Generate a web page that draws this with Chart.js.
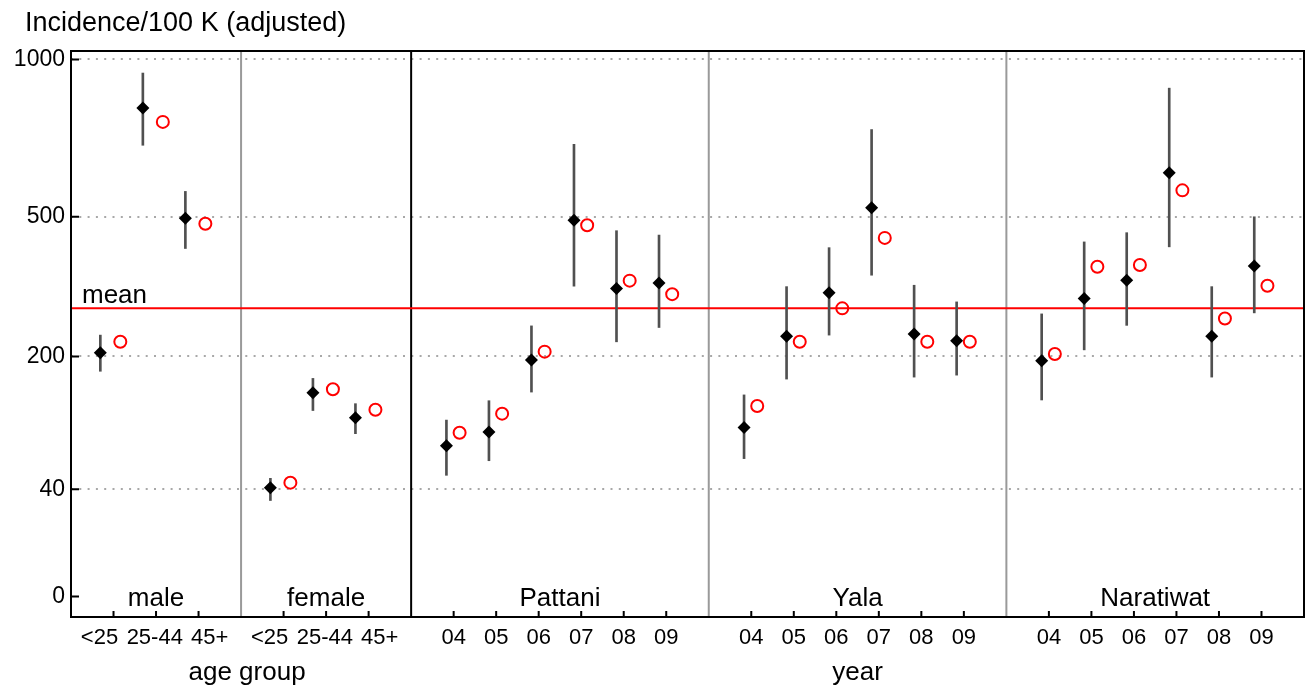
<!DOCTYPE html>
<html>
<head>
<meta charset="utf-8">
<title>Incidence/100 K (adjusted)</title>
<script src="https://cdn.jsdelivr.net/npm/chart.js@4.4.1/dist/chart.umd.min.js"></script>
<style>
  html, body { margin: 0; padding: 0; background: #fff; overflow: hidden; }
  #wrap { width: 1306px; height: 687px; }
  canvas { display: block; }
</style>
</head>
<body>
<div id="wrap"><canvas id="chart" width="1306" height="687"></canvas></div>
<script>
const panelNames = ['male', 'female', 'Pattani', 'Yala', 'Naratiwat'];
const ageGroups = ['<25', '25-44', '45+'];
const years = ['04', '05', '06', '07', '08', '09'];
const yTickValues = [0, 40, 200, 500, 1000];
const meanValue = 288;

// black diamonds (male x3, female x3, Pattani x6, Yala x6, Naratiwat x6)
const observed = [206, 827, 496,  41, 144, 111,
                  79, 94, 194, 491, 329, 341,
                  99, 235, 320, 524, 239, 227,
                  193, 308, 347, 623, 235, 379];
const lower = [176, 706, 420,  32, 120, 92,
               51, 64, 145, 334, 225, 251,
               66, 164, 237, 358, 167, 170,
               134, 211, 255, 424, 167, 279];
const upper = [237, 950, 569,  48.5, 165, 129,
               108, 133, 254, 709, 464, 453,
               141, 333, 422, 756, 336, 301,
               277, 436, 459, 896, 333, 500];
// red open circles
const expected = [225, 781, 482,  45, 149, 121,
                  93, 116, 208, 478, 346, 317,
                  126, 225, 288, 446, 225, 225,
                  204, 377, 381, 572, 268, 335];

const sq = v => Math.sqrt(v);   // the y axis is square-root scaled

// layout of the x axis: each panel gets one empty slot as padding
const panelCats = panelNames.map((n, i) => i < 2 ? ageGroups : years);
const catX = [], catPanel = [], panelStart = [], panelEnd = [];
let pos = 0;
panelCats.forEach((cats, p) => {
  panelStart.push(pos);
  cats.forEach((c, j) => { catX.push(pos + j + 1); catPanel.push(p); });
  pos += cats.length + 1;
  panelEnd.push(pos);
});
const xMax = pos;
const ageLabelShift = [-0.33, -0.03, 0.26];
const tickLabels = [], tickLabelX = [];
panelCats.forEach((cats, p) => cats.forEach((c, j) => {
  tickLabels.push(c);
  tickLabelX.push(panelStart[p] + j + 1 + (p < 2 ? ageLabelShift[j] : 0));
}));
const diamondX = catX.map((x, i) => x + (catPanel[i] < 2 ? -0.31 : -0.17));
const circleX = catX.map((x, i) => x + (catPanel[i] < 2 ? 0.16 : 0.14));

const FONT = '"Liberation Sans", Arial, sans-serif';

const decor = {
  id: 'decor',
  beforeDatasetsDraw(chart) {
    const {ctx, chartArea: a, scales: {x, y}} = chart;
    ctx.save();
    ctx.lineWidth = 2;
    panelStart.slice(1).forEach((v, i) => {
      const px = x.getPixelForValue(v);
      ctx.strokeStyle = (i === 1) ? '#000' : '#9a9a9a';
      ctx.beginPath(); ctx.moveTo(px, a.top); ctx.lineTo(px, a.bottom); ctx.stroke();
    });
    ctx.fillStyle = '#000';
    ctx.font = '26px ' + FONT;
    ctx.textAlign = 'left';
    ctx.textBaseline = 'alphabetic';
    ctx.fillText('mean', a.left + 11, y.getPixelForValue(sq(meanValue)) - 5);
    ctx.restore();
  },
  afterDraw(chart) {
    const {ctx, chartArea: a, scales: {x, y}} = chart;
    ctx.save();
    ctx.strokeStyle = '#000';
    ctx.lineWidth = 2;
    ctx.strokeRect(a.left, a.top, a.right - a.left, a.bottom - a.top);
    // inward tick marks
    ctx.beginPath();
    yTickValues.forEach(v => {
      const py = y.getPixelForValue(sq(v));
      ctx.moveTo(a.left, py); ctx.lineTo(a.left + 8, py);
    });
    catX.forEach(v => {
      const px = x.getPixelForValue(v);
      ctx.moveTo(px, a.bottom); ctx.lineTo(px, a.bottom - 6);
    });
    ctx.stroke();
    ctx.fillStyle = '#000';
    ctx.font = '26px ' + FONT;
    ctx.textAlign = 'center';
    ctx.textBaseline = 'alphabetic';
    panelNames.forEach((n, p) => {
      const cx = (x.getPixelForValue(panelStart[p]) + x.getPixelForValue(panelEnd[p])) / 2;
      ctx.fillText(n, cx, a.bottom - 11);
    });
    ctx.fillText('age group', (x.getPixelForValue(0) + x.getPixelForValue(panelEnd[1])) / 2 + 6, 680);
    ctx.fillText('year', (x.getPixelForValue(panelStart[2]) + x.getPixelForValue(xMax)) / 2, 680);
    ctx.textAlign = 'left';
    ctx.font = '27px ' + FONT;
    ctx.fillText('Incidence/100 K (adjusted)', 25, 31);
    ctx.restore();
  }
};

new Chart(document.getElementById('chart'), {
  type: 'scatter',
  data: {
    datasets: [
      {
        type: 'line',
        data: [{x: 0, y: sq(meanValue)}, {x: xMax, y: sq(meanValue)}],
        borderColor: '#ff0000', borderWidth: 2, pointRadius: 0, order: 4
      },
      {
        type: 'bar',
        data: diamondX.map((x, i) => ({x: x, y: [sq(lower[i]), sq(upper[i])]})),
        backgroundColor: '#505050', borderWidth: 0, barThickness: 2, order: 3
      },
      {
        data: diamondX.map((x, i) => ({x: x, y: sq(observed[i])})),
        pointStyle: 'rectRot', radius: 6.5, backgroundColor: '#000', borderWidth: 0, order: 2
      },
      {
        data: circleX.map((x, i) => ({x: x, y: sq(expected[i])})),
        pointStyle: 'circle', radius: 6, backgroundColor: 'rgba(0,0,0,0)',
        borderColor: '#ff0000', borderWidth: 2, order: 1
      }
    ]
  },
  options: {
    responsive: false,
    animation: false,
    events: [],
    layout: { autoPadding: false, padding: { top: 51, right: 2, left: 0, bottom: 0 } },
    plugins: { legend: { display: false }, tooltip: { enabled: false }, title: { display: false } },
    scales: {
      x: {
        type: 'linear', min: 0, max: xMax, offset: false, bounds: 'data',
        afterBuildTicks: s => { s.ticks = tickLabelX.map(v => ({value: v})); },
        afterFit: s => { s.height = 70; s.paddingLeft = 0; s.paddingRight = 0; },
        grid: { display: false, drawTicks: false, offset: false },
        border: { display: false },
        ticks: {
          autoSkip: false, maxRotation: 0, padding: 8, color: '#000',
          font: { size: 22, family: FONT },
          callback: (v, i) => tickLabels[i]
        }
      },
      y: {
        type: 'linear', min: -1.2, max: 32.12, bounds: 'data', beginAtZero: false,
        afterBuildTicks: s => { s.ticks = yTickValues.map(v => ({value: sq(v)})); },
        afterFit: s => { s.width = 71; },
        grid: {
          drawTicks: false, lineWidth: 2,
          color: c => (c.tick && c.tick.value === 0) ? 'rgba(0,0,0,0)' : '#a8a8a8'
        },
        border: { display: false, dash: [2, 6.3] },
        ticks: {
          padding: 6, color: '#000',
          font: { size: 23, family: FONT },
          callback: v => String(Math.round(v * v))
        }
      }
    }
  },
  plugins: [decor]
});
</script>
</body>
</html>
